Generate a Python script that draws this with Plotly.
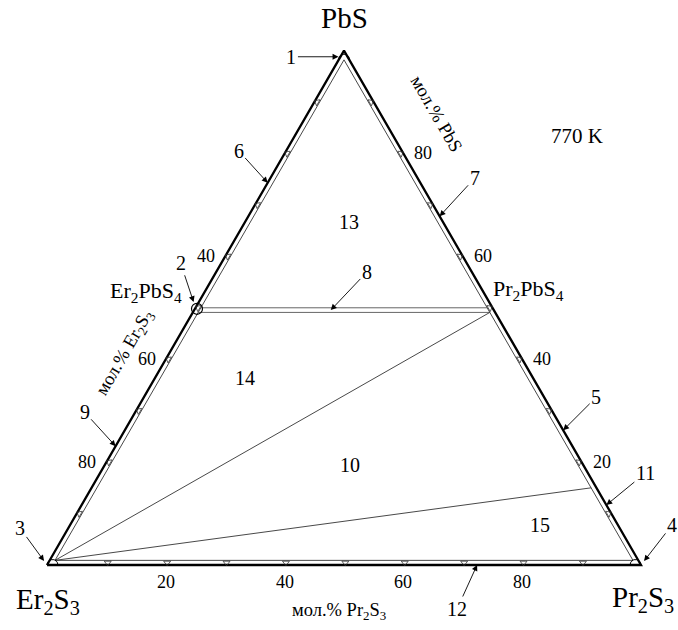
import numpy as np
import plotly.graph_objects as go

# ---------------- data (compositions as fractions: Er2S3, Pr2S3, PbS) ----------------
vertex_names = ["Er<sub>2</sub>S<sub>3</sub>", "Pr<sub>2</sub>S<sub>3</sub>", "PbS"]
vertex_er = [1.0, 0.0, 0.0]
vertex_pr = [0.0, 1.0, 0.0]
vertex_pbs = [0.0, 0.0, 1.0]

compound_names = ["Er<sub>2</sub>PbS<sub>4</sub>", "Pr<sub>2</sub>PbS<sub>4</sub>"]
compound_er = [0.5, 0.0]
compound_pr = [0.0, 0.5]
compound_pbs = [0.5, 0.5]

side_ss_width = 0.009      # width of solid-solution bands along the sides
join_ss_width = 0.009      # width of band along Er2PbS4 - Pr2PbS4
pr2s3_ss_pbs = 0.15        # PbS limit of the Pr2S3-based solid solution

tick_values = [0.1, 0.2, 0.3, 0.4, 0.5, 0.6, 0.7, 0.8, 0.9]
bottom_labels = [20, 40, 60, 80]   # мол.% Pr2S3
left_labels = [40, 60, 80]         # мол.% Er2S3
right_labels = [80, 60, 40, 20]    # мол.% PbS

region_names = ["13", "14", "10", "15"]
region_er = [0.158, 0.485, 0.393, 0.131]
region_pr = [0.175, 0.152, 0.413, 0.791]
region_pbs = [0.667, 0.363, 0.194, 0.078]

pointer_names = ["1", "2", "3", "4", "5", "6", "7", "8", "9", "11", "12"]
pointer_er = [0.012, 0.5, 1.0, 0.0, 0.0, 0.257, 0.0, 0.2745, 0.769, 0.0, 0.276]
pointer_pr = [0.0, 0.0, 0.0, 1.0, 0.738, 0.0, 0.322, 0.230, 0.0, 0.8834, 0.724]
pointer_pbs = [0.988, 0.5, 0.0, 0.0, 0.262, 0.743, 0.678, 0.4955, 0.231, 0.1166, 0.0]

temperature = "770 K"

# ---------------- geometry helpers ----------------
S = 594.0              # pixels per unit side
W, HGT = 678, 630      # figure size
X0, Y0 = 47.0, 565.0   # pixel position of the Er2S3 corner
H = np.sqrt(3) / 2


def to_xy(er, pr, pbs):
    pr = np.asarray(pr, dtype=float)
    pbs = np.asarray(pbs, dtype=float)
    return pr + 0.5 * pbs, H * pbs


FONT = "Liberation Serif, Times New Roman, serif"
w = side_ss_width

fig = go.Figure()


def add_line(er, pr, pbs, width=1.0, color="#222"):
    x, y = to_xy(er, pr, pbs)
    fig.add_trace(go.Scatter(x=x, y=y, mode="lines", hoverinfo="skip",
                             line=dict(color=color, width=width)))


# outer triangle (thick)
add_line(vertex_er + [vertex_er[0]], vertex_pr + [vertex_pr[0]],
         vertex_pbs + [vertex_pbs[0]], width=2.3, color="#000")

# inner triangle (solid-solution boundaries)
inner_er = [1 - 2 * w, w, w, 1 - 2 * w]
inner_pr = [w, 1 - 2 * w, w, w]
inner_pbs = [w, w, 1 - 2 * w, w]
add_line(inner_er, inner_pr, inner_pbs, width=0.9, color="#333")

# Er2PbS4 - Pr2PbS4 double line
p_up = compound_pbs[0]
p_lo = compound_pbs[0] - join_ss_width
add_line([1 - p_up - w, w], [w, 1 - p_up - w], [p_up, p_up], width=0.9, color="#555")
add_line([1 - p_lo - w, w], [w, 1 - p_lo - w], [p_lo, p_lo], width=0.9, color="#555")

# tie lines from Er2S3
add_line([w, 1 - 2 * w], [1 - p_lo - w, w], [p_lo, w], width=0.9, color="#333")
add_line([1 - 2 * w, w], [w, 1 - w - pr2s3_ss_pbs], [w, pr2s3_ss_pbs], width=0.9, color="#333")

# tick triangles on the three sides
t = np.array(tick_values)
bx, by = to_xy(1 - t - w / 2, t, np.full_like(t, w / 2))
lx, ly = to_xy(1 - t - w / 2, np.full_like(t, w / 2), t)
rx, ry = to_xy(np.full_like(t, w / 2), 1 - t - w / 2, t)
fig.add_trace(go.Scatter(
    x=np.concatenate([bx, lx, rx]), y=np.concatenate([by, ly, ry]), mode="markers",
    hoverinfo="skip",
    marker=dict(symbol="triangle-down-open", size=6, color="#333",
                line=dict(width=0.8, color="#333"),
                angle=[0] * len(t) + [120] * len(t) + [240] * len(t))))

# small domes at the corners
vx, vy = to_xy(vertex_er, vertex_pr, vertex_pbs)
r = 5.5 / S
th = np.linspace(0, np.pi, 30)
dome_centers = [(vx[0] + r, vy[0]), (vx[1] - r, vy[1]), (vx[2], vy[2] - 9 / S)]
for cx, cy in dome_centers:
    fig.add_trace(go.Scatter(x=cx + r * np.cos(th), y=cy + r * np.sin(th), mode="lines",
                             hoverinfo="skip", line=dict(color="#000", width=1)))

# Er2PbS4 circle
cx_, cy_ = to_xy(compound_er, compound_pr, compound_pbs)
fig.add_trace(go.Scatter(x=[cx_[0] + 1.5 / S], y=[cy_[0] - 1 / S], mode="markers", hoverinfo="skip",
                         marker=dict(symbol="circle-open", size=11, color="#000",
                                     line=dict(width=1.2, color="#000"))))

annotations = []


def txt(x, y, text, size, xshift=0, yshift=0, angle=0, xref="x", yref="y"):
    annotations.append(dict(x=x, y=y, xref=xref, yref=yref, text=text, showarrow=False,
                            xanchor="center", yanchor="middle",
                            xshift=xshift, yshift=yshift, textangle=angle,
                            font=dict(family=FONT, size=size, color="#000")))


# corner labels
vertex_shifts = [(1, -36), (2, -34), (0, 33)]
vertex_sizes = [29, 29, 29]
for i, name in enumerate(vertex_names):
    txt(vx[i], vy[i], name, vertex_sizes[i], *vertex_shifts[i])

# compound labels
compound_shifts = [(-50, 16), (36, 18)]
for i, name in enumerate(compound_names):
    txt(cx_[i], cy_[i], name, 22, *compound_shifts[i])

# tick labels
for v in bottom_labels:
    x, y = to_xy(1 - v / 100, v / 100, 0)
    txt(x, y, str(v), 18, 0, -17)
for v in left_labels:
    x, y = to_xy(v / 100, 0, 1 - v / 100)
    txt(x, y, str(v), 18, -19, 0)
for v in right_labels:
    x, y = to_xy(0, 1 - v / 100, v / 100)
    txt(x, y, str(v), 18, 20, 0)

# axis titles
x, y = to_xy(0.5, 0.5, 0)
txt(x, y, "мол.% Pr<sub>2</sub>S<sub>3</sub>", 18.5, -5, -46)
x, y = to_xy(0.626, 0, 0.374)
txt(x, y, "мол.% Er<sub>2</sub>S<sub>3</sub>", 18.5, -33, 19, angle=-60)
x, y = to_xy(0, 0.17, 0.83)
txt(x, y, "мол.% PbS", 18.5, 42, 24, angle=60)

# region numbers
rx_, ry_ = to_xy(region_er, region_pr, region_pbs)
for i, name in enumerate(region_names):
    txt(rx_[i], ry_[i], name, 20)

# temperature
txt(577 / W, 1 - 136 / HGT, temperature, 21, xref="paper", yref="paper")

# numbered pointers with arrows
pointer_offsets = [(-49, 0), (-15, -45), (-27, -37), (31, -40), (33, -33), (-29, -32),
                   (35, -38), (36, -38), (-31, -34), (39, -32), (-20, 44)]
pointer_standoff = [2, 6, 5, 5, 0, 0, 0, 0, 0, 0, 0]
px_, py_ = to_xy(pointer_er, pointer_pr, pointer_pbs)
for i, name in enumerate(pointer_names):
    ox, oy = pointer_offsets[i]
    annotations.append(dict(
        x=px_[i], y=py_[i], xref="x", yref="y",
        ax=px_[i] + ox / S, ay=py_[i] - oy / S, axref="x", ayref="y",
        text=name, showarrow=True, arrowhead=2, arrowsize=1.3, arrowwidth=0.9,
        arrowcolor="#000", standoff=pointer_standoff[i],
        font=dict(family=FONT, size=20, color="#000")))

fig.update_layout(
    width=W, height=HGT, autosize=False,
    margin=dict(l=0, r=0, t=0, b=0),
    paper_bgcolor="white", plot_bgcolor="white",
    showlegend=False,
    xaxis=dict(visible=False, range=[-X0 / S, (W - X0) / S], fixedrange=True),
    yaxis=dict(visible=False, range=[(Y0 - HGT) / S, Y0 / S], fixedrange=True),
    annotations=annotations,
)

fig.write_html("out.html", config={"displayModeBar": False},
               post_script="document.body.style.margin='0px';"
                           "document.body.style.overflow='hidden';")
